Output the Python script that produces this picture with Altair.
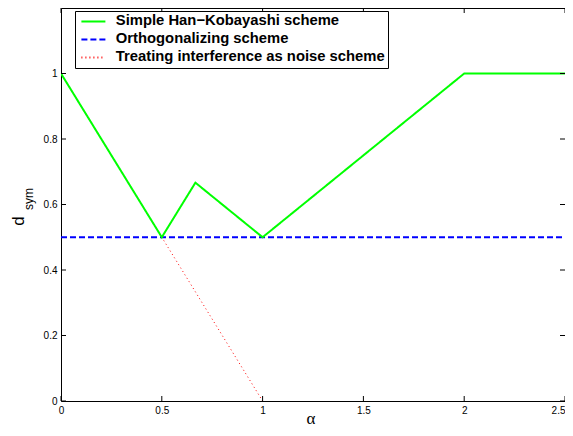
import altair as alt
import pandas as pd

series_names = ["Simple Han\u2212Kobayashi scheme", "Orthogonalizing scheme",
                "Treating interference as noise scheme"]
hk_alpha = [0, 0.5, 2 / 3, 1, 2, 2.5]
hk_d = [1, 0.5, 2 / 3, 0.5, 1, 1]
orth_alpha = [0, 2.5]
orth_d = [0.5, 0.5]
tin_alpha = [0, 1]
tin_d = [1, 0]
x_ticks = [0, 0.5, 1, 1.5, 2, 2.5]
y_ticks = [0, 0.2, 0.4, 0.6, 0.8, 1]

colors = ["#00ff00", "#0000ff", "#ff0000"]
dashes = [[1, 0], [6, 3], [1, 3]]
widths = [2, 2, 1]

W, H = 504, 393
FONT = "Liberation Sans"

rows = []
for name, xs, ys in zip(series_names, [hk_alpha, orth_alpha, tin_alpha], [hk_d, orth_d, tin_d]):
    for i, (a, d) in enumerate(zip(xs, ys)):
        rows.append({"series": name, "alpha": a, "d": d, "idx": i})
df = pd.DataFrame(rows)

xscale = alt.Scale(domain=[0, 2.5], nice=False, zero=False)
yscale = alt.Scale(domain=[0, 1.2], nice=False, zero=False)

xaxis = alt.Axis(values=x_ticks, title=None, ticks=False, domain=False, grid=False,
                 format="~g",
                 labelFont=FONT, labelFontSize=10, labelColor="black", labelPadding=4,
                 labelAlign=alt.expr("datum.value >= 2.5 ? 'right' : 'center'"),
                 labelFlush=False, labelOverlap=False, labelBound=False)
yaxis = alt.Axis(values=y_ticks, title=None, ticks=False, domain=False, grid=False,
                 format="~g",
                 labelFont=FONT, labelFontSize=10, labelColor="black", labelPadding=4,
                 labelFlush=False, labelOverlap=False, labelBound=False)

legend = alt.Legend(title=None, orient="none", legendX=14, legendY=3,
                    symbolType="M-2,0H2", symbolSize=144, symbolStrokeWidth=2,
                    symbolOffset=8,
                    labelFont=FONT, labelFontSize=14.8, labelFontWeight="bold",
                    labelColor="black", labelLimit=500, labelOffset=15,
                    fillColor="white", strokeColor="black", padding=3, rowPadding=2)

color_scale = alt.Scale(domain=series_names, range=colors)
dash_scale = alt.Scale(domain=series_names, range=dashes)


def line_layer(k):
    return alt.Chart(df).transform_filter(
        alt.datum.series == series_names[k]
    ).mark_line(strokeWidth=widths[k], clip=True).encode(
        x=alt.X("alpha:Q", scale=xscale, axis=xaxis),
        y=alt.Y("d:Q", scale=yscale, axis=yaxis),
        color=alt.Color("series:N", scale=color_scale, legend=legend),
        strokeDash=alt.StrokeDash("series:N", scale=dash_scale, legend=legend),
        order="idx:Q",
    )


xt = pd.DataFrame({"alpha": x_ticks})
yt = pd.DataFrame({"d": y_ticks})

tick_bottom = alt.Chart(xt).mark_rule(color="black", strokeWidth=1).encode(
    x=alt.X("alpha:Q", scale=xscale, axis=xaxis), y=alt.value(H), y2=alt.value(H - 5))
tick_top = alt.Chart(xt).mark_rule(color="black", strokeWidth=1).encode(
    x=alt.X("alpha:Q", scale=xscale, axis=xaxis), y=alt.value(0), y2=alt.value(5))
tick_left = alt.Chart(yt).mark_rule(color="black", strokeWidth=1).encode(
    y=alt.Y("d:Q", scale=yscale, axis=yaxis), x=alt.value(0), x2=alt.value(5))
tick_right = alt.Chart(yt).mark_rule(color="black", strokeWidth=1).encode(
    y=alt.Y("d:Q", scale=yscale, axis=yaxis), x=alt.value(W), x2=alt.value(W - 5))

one = pd.DataFrame({"k": [0]})
ytitle_d = alt.Chart(one).mark_text(font=FONT, fontSize=17, angle=270, align="center",
                                    baseline="middle", color="black").encode(
    x=alt.value(-42), y=alt.value(213), text=alt.value("d"))
ytitle_sub = alt.Chart(one).mark_text(font=FONT, fontSize=12, angle=270, align="center",
                                      baseline="middle", color="black").encode(
    x=alt.value(-32), y=alt.value(191), text=alt.value("sym"))
xtitle = alt.Chart(one).mark_text(font="Liberation Serif", fontSize=17, align="center",
                                  baseline="bottom", color="black").encode(
    x=alt.value(250), y=alt.value(420), text=alt.value("\u03b1"))

chart = alt.layer(
    line_layer(2), line_layer(1), line_layer(0),
    tick_bottom, tick_top, tick_left, tick_right,
    ytitle_d, ytitle_sub, xtitle,
).properties(
    width=W, height=H,
    autosize=alt.AutoSizeParams(type="none"),
    padding={"left": 53, "top": 0, "right": 0, "bottom": 27},
    background="white",
).configure_view(stroke="black", strokeWidth=1)

chart.save("out.html", embed_options={"renderer": "svg", "actions": False})
